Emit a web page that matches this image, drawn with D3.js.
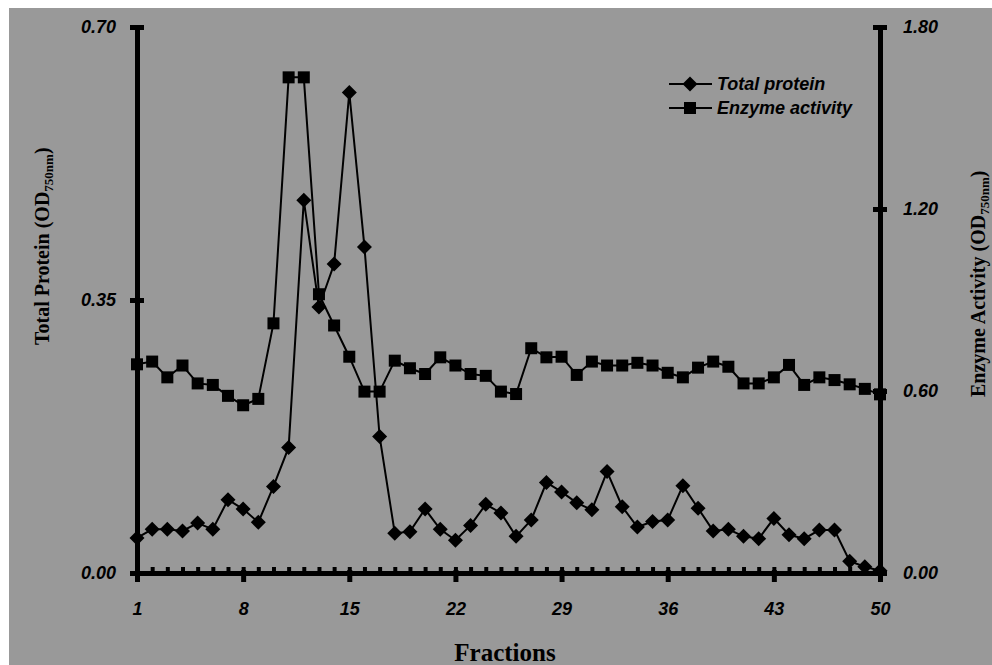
<!DOCTYPE html>
<html>
<head>
<meta charset="utf-8">
<script src="https://cdn.jsdelivr.net/npm/d3@7"></script>
<style>
  body { margin: 0; background: #fff; }
  svg { display: block; }
</style>
</head>
<body>
<svg id="chart" width="992" height="665"></svg>
<script>
// fraction numbers
const fractions = d3.range(1, 51);
const xTicks = [1, 8, 15, 22, 29, 36, 43, 50];
const leftTicks = [0, 0.35, 0.70];
const rightTicks = [0, 0.60, 1.20, 1.80];

// total protein, OD750nm (left axis)
const totalProtein = [
  0.045, 0.056, 0.056, 0.054, 0.064, 0.056, 0.094, 0.082, 0.065, 0.111,
  0.161, 0.478, 0.341, 0.396, 0.616, 0.418, 0.175, 0.051, 0.053, 0.082,
  0.056, 0.042, 0.061, 0.088, 0.077, 0.047, 0.068, 0.116, 0.104, 0.090,
  0.081, 0.130, 0.085, 0.059, 0.066, 0.068, 0.112, 0.083, 0.054, 0.056,
  0.047, 0.044, 0.070, 0.049, 0.044, 0.055, 0.055, 0.015, 0.008, 0.003
];

// enzyme activity, OD750nm (right axis)
const enzymeActivity = [
  0.688, 0.697, 0.645, 0.684, 0.625, 0.620, 0.584, 0.553, 0.574, 0.823,
  1.634, 1.634, 0.919, 0.816, 0.713, 0.598, 0.598, 0.700, 0.675, 0.656,
  0.711, 0.684, 0.656, 0.650, 0.598, 0.590, 0.741, 0.711, 0.713, 0.653,
  0.697, 0.684, 0.684, 0.693, 0.684, 0.660, 0.645, 0.677, 0.697, 0.680,
  0.625, 0.625, 0.645, 0.686, 0.620, 0.645, 0.636, 0.622, 0.607, 0.589
];

const svg = d3.select('#chart');
const sans = '"Liberation Sans", Arial, sans-serif';
const serif = '"Liberation Serif", "Times New Roman", serif';

// grey panel with thin white margin top/left
svg.append('rect')
  .attr('x', 9).attr('y', 8)
  .attr('width', 983).attr('height', 657)
  .attr('fill', '#999999');

const x = d3.scaleLinear().domain([1, 50]).range([137, 880]);
const yLeft = d3.scaleLinear().domain([0, 0.7]).range([573, 27]);
const yRight = d3.scaleLinear().domain([0, 1.8]).range([573, 27]);

function styleAxis(g) {
  g.select('.domain').style('stroke', '#000').style('stroke-width', '5px');
  g.selectAll('.tick line').style('stroke', '#000').style('stroke-width', '5px');
  g.selectAll('.tick text')
    .attr('fill', '#000')
    .attr('font-family', sans)
    .attr('font-size', 18)
    .attr('font-weight', 'bold')
    .attr('font-style', 'italic');
}

// minor x ticks (inside, above the axis line)
svg.append('g')
  .attr('transform', 'translate(0,573)')
  .call(d3.axisBottom(x).tickValues(fractions).tickSize(-6).tickFormat(''))
  .call((g) => {
    g.select('.domain').remove();
    g.selectAll('.tick line').style('stroke', '#000').style('stroke-width', '4px');
  });

// major x axis
svg.append('g')
  .attr('transform', 'translate(0,573)')
  .call(d3.axisBottom(x).tickValues(xTicks).tickSizeOuter(0).tickSize(9).tickPadding(20).tickFormat(d3.format('d')))
  .call(styleAxis)
  .call((g) => g.selectAll('.tick line').attr('y1', -3));

// left axis
svg.append('g')
  .attr('transform', 'translate(137,0)')
  .call(d3.axisLeft(yLeft).tickValues(leftTicks).tickSizeOuter(0).tickSize(7).tickPadding(14).tickFormat(d3.format('.2f')))
  .call(styleAxis)
  .call((g) => g.selectAll('.tick line').attr('x1', -7).attr('x2', 7));

// right axis
svg.append('g')
  .attr('transform', 'translate(880,0)')
  .call(d3.axisRight(yRight).tickValues(rightTicks).tickSizeOuter(0).tickSize(7).tickPadding(16).tickFormat(d3.format('.2f')))
  .call(styleAxis)
  .call((g) => g.selectAll('.tick line').attr('x1', -7).attr('x2', 7));

// series lines
const proteinLine = d3.line()
  .x((d, i) => x(fractions[i]))
  .y((d) => yLeft(d));
const enzymeLine = d3.line()
  .x((d, i) => x(fractions[i]))
  .y((d) => yRight(d));

svg.append('path')
  .datum(enzymeActivity)
  .attr('d', enzymeLine)
  .attr('fill', 'none')
  .attr('stroke', '#000')
  .attr('stroke-width', 2);

svg.append('path')
  .datum(totalProtein)
  .attr('d', proteinLine)
  .attr('fill', 'none')
  .attr('stroke', '#000')
  .attr('stroke-width', 2);

// markers
const diamond = 'M0,-7.5L7.5,0L0,7.5L-7.5,0Z';

svg.append('g')
  .selectAll('rect')
  .data(enzymeActivity)
  .join('rect')
  .attr('x', (d, i) => x(fractions[i]) - 6)
  .attr('y', (d) => yRight(d) - 6)
  .attr('width', 12)
  .attr('height', 12)
  .attr('fill', '#000');

svg.append('g')
  .selectAll('path')
  .data(totalProtein)
  .join('path')
  .attr('d', diamond)
  .attr('transform', (d, i) => `translate(${x(fractions[i])},${yLeft(d)})`)
  .attr('fill', '#000');

// legend
const legend = svg.append('g').attr('transform', 'translate(669,84)');
const legendItems = ['Total protein', 'Enzyme activity'];

legendItems.forEach((label, i) => {
  const row = legend.append('g').attr('transform', `translate(0,${i * 24})`);
  row.append('line')
    .attr('x1', 0).attr('x2', 43)
    .attr('stroke', '#000').attr('stroke-width', 2);
  if (i === 0) {
    row.append('path').attr('d', diamond).attr('transform', 'translate(21,0)').attr('fill', '#000');
  } else {
    row.append('rect').attr('x', 15).attr('y', -6).attr('width', 12).attr('height', 12).attr('fill', '#000');
  }
  row.append('text')
    .attr('x', 48)
    .attr('y', 6)
    .attr('font-family', sans)
    .attr('font-size', 18)
    .attr('font-weight', 'bold')
    .attr('font-style', 'italic')
    .text(label);
});

// axis titles
function axisTitle(tx, ty, main) {
  const t = svg.append('text')
    .attr('transform', `translate(${tx},${ty}) rotate(-90)`)
    .attr('font-family', serif)
    .attr('font-size', 20)
    .attr('font-weight', 'bold')
    .attr('fill', '#000');
  t.append('tspan').text(`${main} (OD`);
  t.append('tspan').attr('font-size', 13).attr('dy', 4).text('750nm');
  t.append('tspan').attr('dy', -4).text(')');
}

axisTitle(49, 345, 'Total Protein');
axisTitle(985, 397, 'Enzyme Activity');

svg.append('text')
  .attr('x', 505)
  .attr('y', 661)
  .attr('text-anchor', 'middle')
  .attr('font-family', serif)
  .attr('font-size', 25)
  .attr('font-weight', 'bold')
  .attr('fill', '#000')
  .text('Fractions');
</script>
</body>
</html>
